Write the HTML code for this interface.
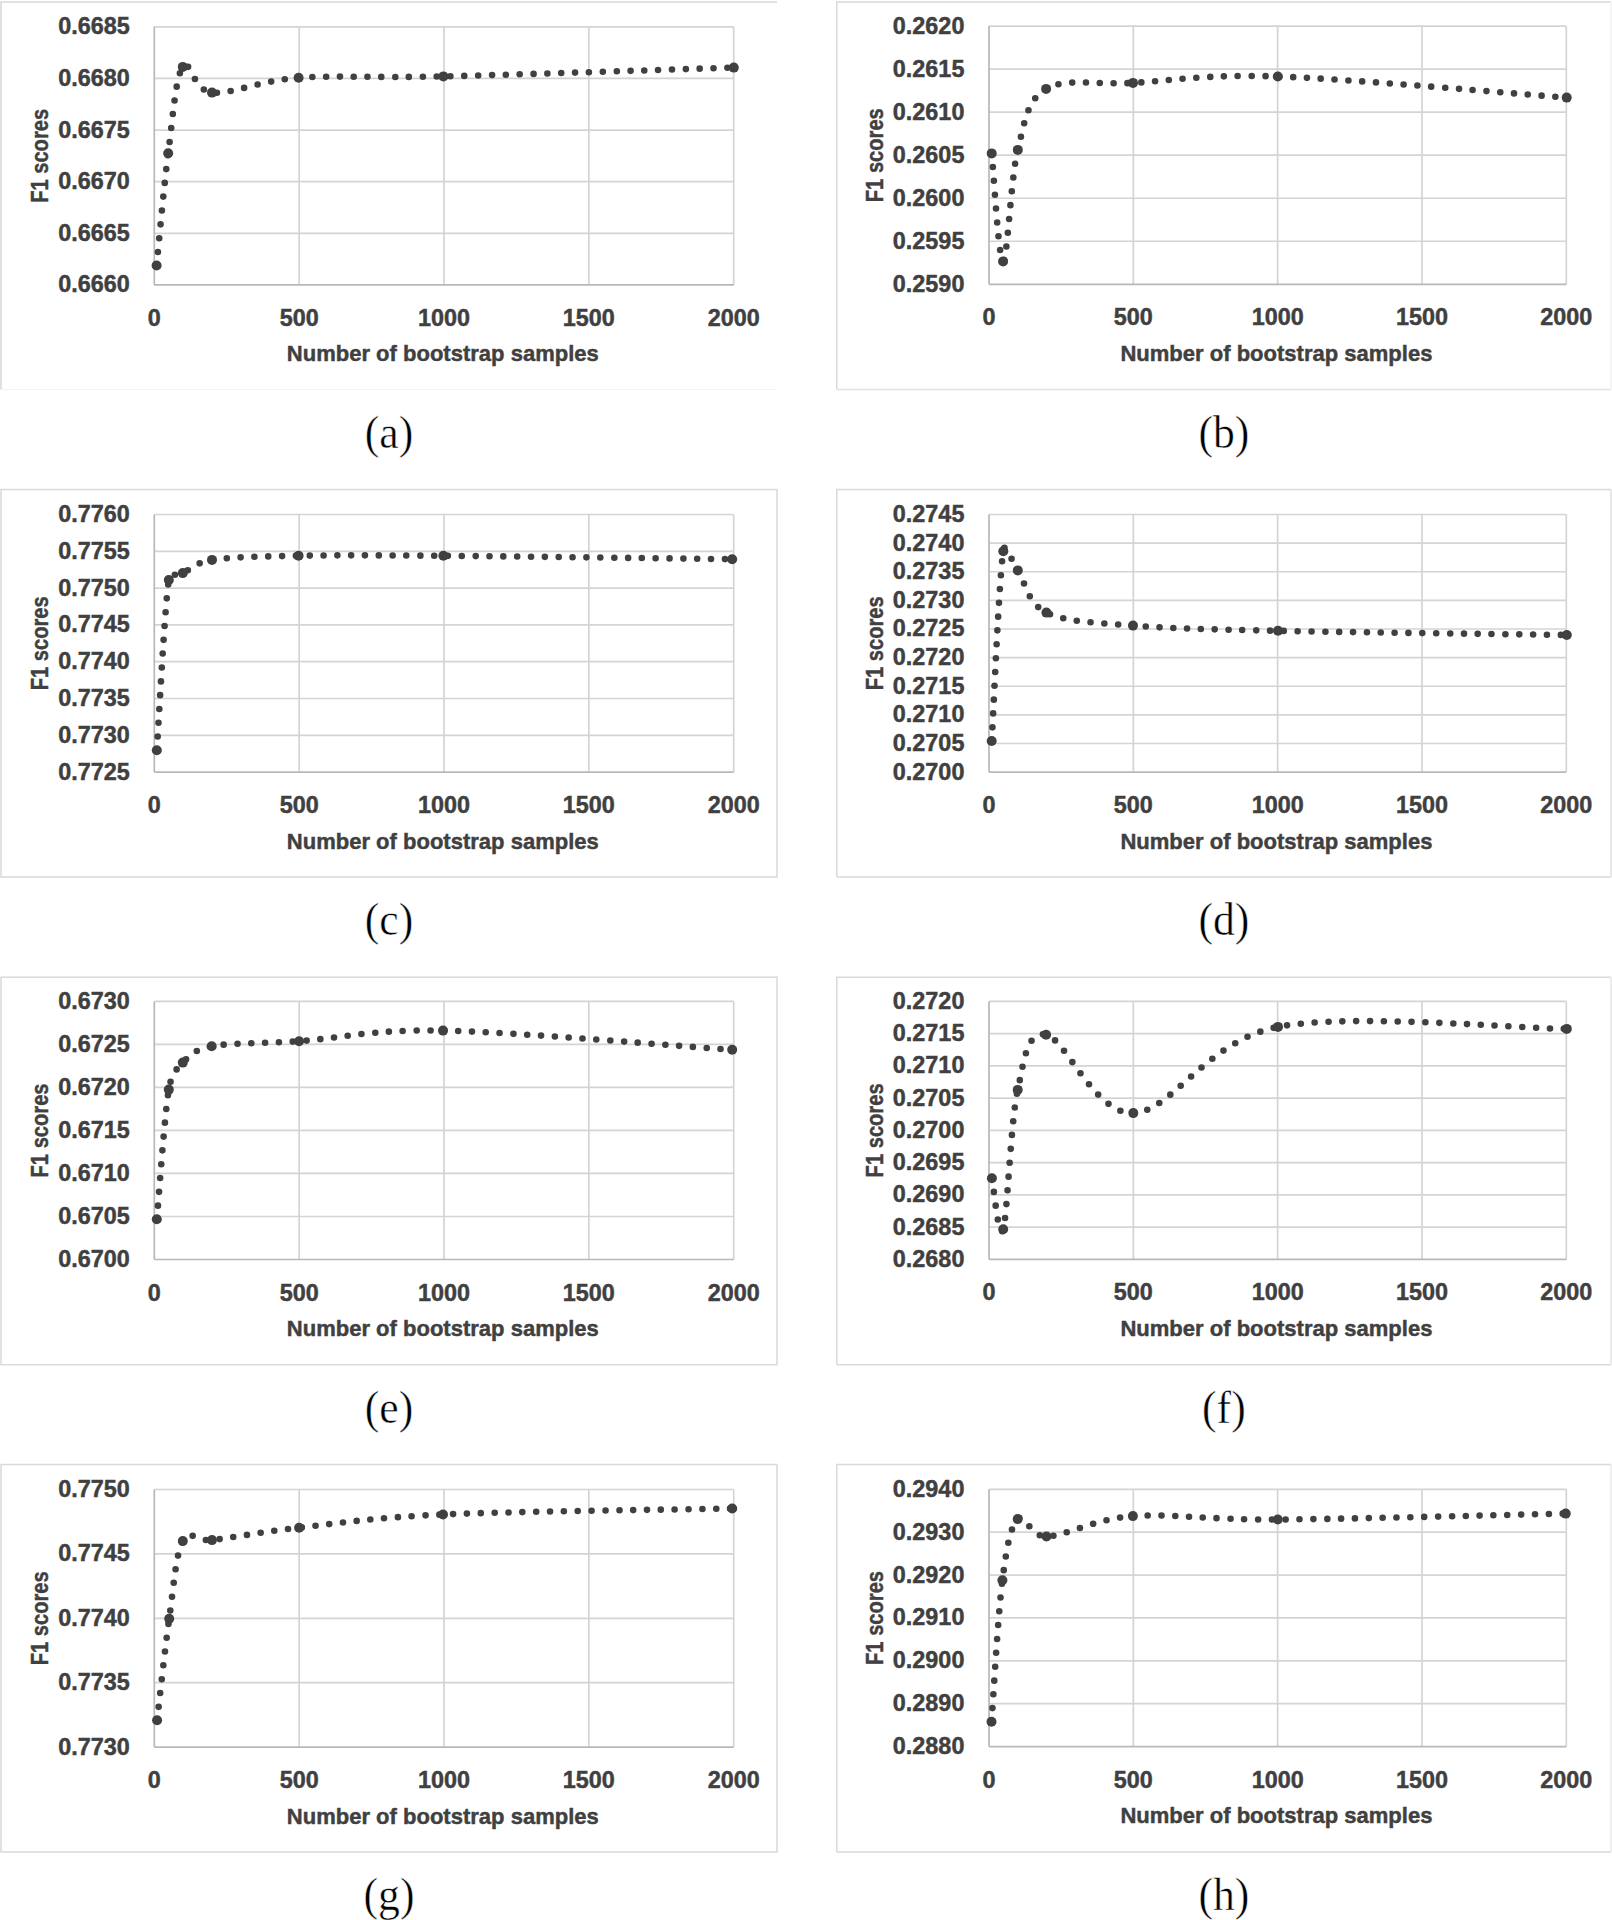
<!DOCTYPE html>
<html><head><meta charset="utf-8"><style>
html,body{margin:0;padding:0;background:#fff;overflow:hidden;width:1612px;height:1920px;}
svg{display:block;}
.t{font-family:"Liberation Sans",sans-serif;font-weight:bold;font-size:23.4px;fill:#404040;stroke:#404040;stroke-width:0.45px;}
.c{font-family:"Liberation Serif",serif;font-size:47px;fill:#000;stroke:#fff;stroke-width:0.5px;}
</style></head><body>
<svg width="1612" height="1920" viewBox="0 0 1612 1920">
<rect width="1612" height="1920" fill="#fff"/>
<path d="M1,389.5 L1,2 L777,2" fill="none" stroke="#d9d9d9" stroke-width="1.6"/>
<line x1="1" y1="389.5" x2="777" y2="389.5" stroke="#f4f4f4" stroke-width="1.2"/>
<line x1="154.3" y1="26.8" x2="733.7" y2="26.8" stroke="#d4d4d4" stroke-width="1.7"/>
<line x1="154.3" y1="78.42" x2="733.7" y2="78.42" stroke="#d4d4d4" stroke-width="1.7"/>
<line x1="154.3" y1="130.04" x2="733.7" y2="130.04" stroke="#d4d4d4" stroke-width="1.7"/>
<line x1="154.3" y1="181.66" x2="733.7" y2="181.66" stroke="#d4d4d4" stroke-width="1.7"/>
<line x1="154.3" y1="233.28" x2="733.7" y2="233.28" stroke="#d4d4d4" stroke-width="1.7"/>
<line x1="299.15" y1="26.8" x2="299.15" y2="284.9" stroke="#d4d4d4" stroke-width="1.7"/>
<line x1="444" y1="26.8" x2="444" y2="284.9" stroke="#d4d4d4" stroke-width="1.7"/>
<line x1="588.85" y1="26.8" x2="588.85" y2="284.9" stroke="#d4d4d4" stroke-width="1.7"/>
<line x1="733.7" y1="26.8" x2="733.7" y2="284.9" stroke="#d4d4d4" stroke-width="1.7"/>
<line x1="154.3" y1="26.8" x2="154.3" y2="284.9" stroke="#b8b8b8" stroke-width="1.7"/>
<line x1="154.3" y1="284.9" x2="733.7" y2="284.9" stroke="#b8b8b8" stroke-width="1.7"/>
<text x="129.7" y="34.3" text-anchor="end" class="t">0.6685</text>
<text x="129.7" y="85.92" text-anchor="end" class="t">0.6680</text>
<text x="129.7" y="137.54" text-anchor="end" class="t">0.6675</text>
<text x="129.7" y="189.16" text-anchor="end" class="t">0.6670</text>
<text x="129.7" y="240.78" text-anchor="end" class="t">0.6665</text>
<text x="129.7" y="292.4" text-anchor="end" class="t">0.6660</text>
<text x="154.3" y="325.9" text-anchor="middle" class="t">0</text>
<text x="299.15" y="325.9" text-anchor="middle" class="t">500</text>
<text x="444" y="325.9" text-anchor="middle" class="t">1000</text>
<text x="588.85" y="325.9" text-anchor="middle" class="t">1500</text>
<text x="733.7" y="325.9" text-anchor="middle" class="t">2000</text>
<text x="442.8" y="361.3" text-anchor="middle" class="t" style="font-size:22.3px" textLength="312" lengthAdjust="spacingAndGlyphs">Number of bootstrap samples</text>
<text x="0" y="0" transform="translate(48.1,155.85) rotate(-90)" text-anchor="middle" class="t" textLength="94" lengthAdjust="spacingAndGlyphs">F1 scores</text>
<path d="M156.6,265.5 C158.53,246.8 163.83,186.4 168.2,153.3 C172.57,120.2 175.5,77.02 182.8,66.9 C190.1,56.78 192.7,90.78 212,92.6 C231.3,94.42 260.03,80.5 298.6,77.8 C337.17,75.1 371.02,78.1 443.4,76.4 C515.93,74.7 685.4,69.07 733.8,67.6" fill="none" stroke="#404040" stroke-width="6.6" stroke-linecap="round" stroke-dasharray="0 13.83"/>
<circle cx="156.6" cy="265.5" r="5" fill="#404040"/>
<circle cx="168.2" cy="153.3" r="5" fill="#404040"/>
<circle cx="182.8" cy="66.9" r="5" fill="#404040"/>
<circle cx="212" cy="92.6" r="5" fill="#404040"/>
<circle cx="298.6" cy="77.8" r="5" fill="#404040"/>
<circle cx="443.4" cy="76.4" r="5" fill="#404040"/>
<circle cx="733.8" cy="67.6" r="5" fill="#404040"/>
<text x="0" y="0" transform="translate(389,447.6) scale(0.93,1)" text-anchor="middle" class="c">(a)</text>
<path d="M1611,2 L836.8,2 L836.8,389.5" fill="none" stroke="#d9d9d9" stroke-width="1.5"/>
<line x1="836.8" y1="389.5" x2="1611" y2="389.5" stroke="#e2e2e2" stroke-width="1.5"/>
<line x1="1611" y1="2" x2="1611" y2="389.5" stroke="#f4f4f4" stroke-width="1.8"/>
<line x1="989" y1="26.1" x2="1566.3" y2="26.1" stroke="#d4d4d4" stroke-width="1.7"/>
<line x1="989" y1="69.13" x2="1566.3" y2="69.13" stroke="#d4d4d4" stroke-width="1.7"/>
<line x1="989" y1="112.17" x2="1566.3" y2="112.17" stroke="#d4d4d4" stroke-width="1.7"/>
<line x1="989" y1="155.2" x2="1566.3" y2="155.2" stroke="#d4d4d4" stroke-width="1.7"/>
<line x1="989" y1="198.23" x2="1566.3" y2="198.23" stroke="#d4d4d4" stroke-width="1.7"/>
<line x1="989" y1="241.27" x2="1566.3" y2="241.27" stroke="#d4d4d4" stroke-width="1.7"/>
<line x1="1133.33" y1="26.1" x2="1133.33" y2="284.3" stroke="#d4d4d4" stroke-width="1.7"/>
<line x1="1277.65" y1="26.1" x2="1277.65" y2="284.3" stroke="#d4d4d4" stroke-width="1.7"/>
<line x1="1421.97" y1="26.1" x2="1421.97" y2="284.3" stroke="#d4d4d4" stroke-width="1.7"/>
<line x1="1566.3" y1="26.1" x2="1566.3" y2="284.3" stroke="#d4d4d4" stroke-width="1.7"/>
<line x1="989" y1="26.1" x2="989" y2="284.3" stroke="#b8b8b8" stroke-width="1.7"/>
<line x1="989" y1="284.3" x2="1566.3" y2="284.3" stroke="#b8b8b8" stroke-width="1.7"/>
<text x="964.4" y="33.6" text-anchor="end" class="t">0.2620</text>
<text x="964.4" y="76.63" text-anchor="end" class="t">0.2615</text>
<text x="964.4" y="119.67" text-anchor="end" class="t">0.2610</text>
<text x="964.4" y="162.7" text-anchor="end" class="t">0.2605</text>
<text x="964.4" y="205.73" text-anchor="end" class="t">0.2600</text>
<text x="964.4" y="248.77" text-anchor="end" class="t">0.2595</text>
<text x="964.4" y="291.8" text-anchor="end" class="t">0.2590</text>
<text x="989" y="325.3" text-anchor="middle" class="t">0</text>
<text x="1133.33" y="325.3" text-anchor="middle" class="t">500</text>
<text x="1277.65" y="325.3" text-anchor="middle" class="t">1000</text>
<text x="1421.97" y="325.3" text-anchor="middle" class="t">1500</text>
<text x="1566.3" y="325.3" text-anchor="middle" class="t">2000</text>
<text x="1276.45" y="360.7" text-anchor="middle" class="t" style="font-size:22.3px" textLength="312" lengthAdjust="spacingAndGlyphs">Number of bootstrap samples</text>
<text x="0" y="0" transform="translate(882.8,155.2) rotate(-90)" text-anchor="middle" class="t" textLength="94" lengthAdjust="spacingAndGlyphs">F1 scores</text>
<path d="M991.7,153.4 C993.6,171.4 998.75,261.98 1003.1,261.4 C1007.45,260.82 1010.63,178.65 1017.8,149.9 C1024.97,121.15 1026.9,100.07 1046.1,88.9 C1065.3,77.73 1094.38,84.97 1133,82.9 C1171.62,80.83 1205.52,74.05 1277.8,76.5 C1350.08,78.95 1518.55,94.08 1566.7,97.6" fill="none" stroke="#404040" stroke-width="6.6" stroke-linecap="round" stroke-dasharray="0 13.83"/>
<circle cx="991.7" cy="153.4" r="5" fill="#404040"/>
<circle cx="1003.1" cy="261.4" r="5" fill="#404040"/>
<circle cx="1017.8" cy="149.9" r="5" fill="#404040"/>
<circle cx="1046.1" cy="88.9" r="5" fill="#404040"/>
<circle cx="1133" cy="82.9" r="5" fill="#404040"/>
<circle cx="1277.8" cy="76.5" r="5" fill="#404040"/>
<circle cx="1566.7" cy="97.6" r="5" fill="#404040"/>
<text x="0" y="0" transform="translate(1223.9,447.6) scale(0.93,1)" text-anchor="middle" class="c">(b)</text>
<rect x="1" y="489.5" width="776" height="387.5" fill="none" stroke="#d9d9d9" stroke-width="1.5"/>
<line x1="154.3" y1="514.5" x2="733.7" y2="514.5" stroke="#d4d4d4" stroke-width="1.7"/>
<line x1="154.3" y1="551.3" x2="733.7" y2="551.3" stroke="#d4d4d4" stroke-width="1.7"/>
<line x1="154.3" y1="588.1" x2="733.7" y2="588.1" stroke="#d4d4d4" stroke-width="1.7"/>
<line x1="154.3" y1="624.9" x2="733.7" y2="624.9" stroke="#d4d4d4" stroke-width="1.7"/>
<line x1="154.3" y1="661.7" x2="733.7" y2="661.7" stroke="#d4d4d4" stroke-width="1.7"/>
<line x1="154.3" y1="698.5" x2="733.7" y2="698.5" stroke="#d4d4d4" stroke-width="1.7"/>
<line x1="154.3" y1="735.3" x2="733.7" y2="735.3" stroke="#d4d4d4" stroke-width="1.7"/>
<line x1="299.15" y1="514.5" x2="299.15" y2="772.1" stroke="#d4d4d4" stroke-width="1.7"/>
<line x1="444" y1="514.5" x2="444" y2="772.1" stroke="#d4d4d4" stroke-width="1.7"/>
<line x1="588.85" y1="514.5" x2="588.85" y2="772.1" stroke="#d4d4d4" stroke-width="1.7"/>
<line x1="733.7" y1="514.5" x2="733.7" y2="772.1" stroke="#d4d4d4" stroke-width="1.7"/>
<line x1="154.3" y1="514.5" x2="154.3" y2="772.1" stroke="#b8b8b8" stroke-width="1.7"/>
<line x1="154.3" y1="772.1" x2="733.7" y2="772.1" stroke="#b8b8b8" stroke-width="1.7"/>
<text x="129.7" y="522" text-anchor="end" class="t">0.7760</text>
<text x="129.7" y="558.8" text-anchor="end" class="t">0.7755</text>
<text x="129.7" y="595.6" text-anchor="end" class="t">0.7750</text>
<text x="129.7" y="632.4" text-anchor="end" class="t">0.7745</text>
<text x="129.7" y="669.2" text-anchor="end" class="t">0.7740</text>
<text x="129.7" y="706" text-anchor="end" class="t">0.7735</text>
<text x="129.7" y="742.8" text-anchor="end" class="t">0.7730</text>
<text x="129.7" y="779.6" text-anchor="end" class="t">0.7725</text>
<text x="154.3" y="813.1" text-anchor="middle" class="t">0</text>
<text x="299.15" y="813.1" text-anchor="middle" class="t">500</text>
<text x="444" y="813.1" text-anchor="middle" class="t">1000</text>
<text x="588.85" y="813.1" text-anchor="middle" class="t">1500</text>
<text x="733.7" y="813.1" text-anchor="middle" class="t">2000</text>
<text x="442.8" y="848.5" text-anchor="middle" class="t" style="font-size:22.3px" textLength="312" lengthAdjust="spacingAndGlyphs">Number of bootstrap samples</text>
<text x="0" y="0" transform="translate(48.1,643.3) rotate(-90)" text-anchor="middle" class="t" textLength="94" lengthAdjust="spacingAndGlyphs">F1 scores</text>
<path d="M156.8,750.3 C158.8,721.92 164.47,609.53 168.8,580 C169.93,572.28 175.72,576.39 182.8,573.1 C190,569.75 196.15,562.27 212,559.9 C231.3,557.02 260.03,556.48 298.6,555.8 C337.17,555.12 371.13,555.23 443.4,555.8 C515.67,556.37 684.07,558.63 732.2,559.2" fill="none" stroke="#404040" stroke-width="6.6" stroke-linecap="round" stroke-dasharray="0 13.83"/>
<circle cx="156.8" cy="750.3" r="5" fill="#404040"/>
<circle cx="168.8" cy="580" r="5" fill="#404040"/>
<circle cx="182.8" cy="573.1" r="5" fill="#404040"/>
<circle cx="212" cy="559.9" r="5" fill="#404040"/>
<circle cx="298.6" cy="555.8" r="5" fill="#404040"/>
<circle cx="443.4" cy="555.8" r="5" fill="#404040"/>
<circle cx="732.2" cy="559.2" r="5" fill="#404040"/>
<text x="0" y="0" transform="translate(389,935.1) scale(0.93,1)" text-anchor="middle" class="c">(c)</text>
<path d="M1611,489.5 L836.8,489.5 L836.8,877" fill="none" stroke="#d9d9d9" stroke-width="1.5"/>
<line x1="836.8" y1="877" x2="1611" y2="877" stroke="#d9d9d9" stroke-width="1.5"/>
<line x1="1611" y1="489.5" x2="1611" y2="877" stroke="#e6e6e6" stroke-width="1.8"/>
<line x1="989" y1="514.5" x2="1566.3" y2="514.5" stroke="#d4d4d4" stroke-width="1.7"/>
<line x1="989" y1="543.12" x2="1566.3" y2="543.12" stroke="#d4d4d4" stroke-width="1.7"/>
<line x1="989" y1="571.74" x2="1566.3" y2="571.74" stroke="#d4d4d4" stroke-width="1.7"/>
<line x1="989" y1="600.37" x2="1566.3" y2="600.37" stroke="#d4d4d4" stroke-width="1.7"/>
<line x1="989" y1="628.99" x2="1566.3" y2="628.99" stroke="#d4d4d4" stroke-width="1.7"/>
<line x1="989" y1="657.61" x2="1566.3" y2="657.61" stroke="#d4d4d4" stroke-width="1.7"/>
<line x1="989" y1="686.23" x2="1566.3" y2="686.23" stroke="#d4d4d4" stroke-width="1.7"/>
<line x1="989" y1="714.86" x2="1566.3" y2="714.86" stroke="#d4d4d4" stroke-width="1.7"/>
<line x1="989" y1="743.48" x2="1566.3" y2="743.48" stroke="#d4d4d4" stroke-width="1.7"/>
<line x1="1133.33" y1="514.5" x2="1133.33" y2="772.1" stroke="#d4d4d4" stroke-width="1.7"/>
<line x1="1277.65" y1="514.5" x2="1277.65" y2="772.1" stroke="#d4d4d4" stroke-width="1.7"/>
<line x1="1421.97" y1="514.5" x2="1421.97" y2="772.1" stroke="#d4d4d4" stroke-width="1.7"/>
<line x1="1566.3" y1="514.5" x2="1566.3" y2="772.1" stroke="#d4d4d4" stroke-width="1.7"/>
<line x1="989" y1="514.5" x2="989" y2="772.1" stroke="#b8b8b8" stroke-width="1.7"/>
<line x1="989" y1="772.1" x2="1566.3" y2="772.1" stroke="#b8b8b8" stroke-width="1.7"/>
<text x="964.4" y="522" text-anchor="end" class="t">0.2745</text>
<text x="964.4" y="550.62" text-anchor="end" class="t">0.2740</text>
<text x="964.4" y="579.24" text-anchor="end" class="t">0.2735</text>
<text x="964.4" y="607.87" text-anchor="end" class="t">0.2730</text>
<text x="964.4" y="636.49" text-anchor="end" class="t">0.2725</text>
<text x="964.4" y="665.11" text-anchor="end" class="t">0.2720</text>
<text x="964.4" y="693.73" text-anchor="end" class="t">0.2715</text>
<text x="964.4" y="722.36" text-anchor="end" class="t">0.2710</text>
<text x="964.4" y="750.98" text-anchor="end" class="t">0.2705</text>
<text x="964.4" y="779.6" text-anchor="end" class="t">0.2700</text>
<text x="989" y="813.1" text-anchor="middle" class="t">0</text>
<text x="1133.33" y="813.1" text-anchor="middle" class="t">500</text>
<text x="1277.65" y="813.1" text-anchor="middle" class="t">1000</text>
<text x="1421.97" y="813.1" text-anchor="middle" class="t">1500</text>
<text x="1566.3" y="813.1" text-anchor="middle" class="t">2000</text>
<text x="1276.45" y="848.5" text-anchor="middle" class="t" style="font-size:22.3px" textLength="312" lengthAdjust="spacingAndGlyphs">Number of bootstrap samples</text>
<text x="0" y="0" transform="translate(882.8,643.3) rotate(-90)" text-anchor="middle" class="t" textLength="94" lengthAdjust="spacingAndGlyphs">F1 scores</text>
<path d="M991.7,741 C993.63,709.37 998.95,579.63 1003.3,551.2 C1005.12,539.31 1010.89,560.55 1017.8,570.4 C1024.98,580.63 1027.2,603.4 1046.4,612.6 C1065.6,621.8 1094.4,622.57 1133,625.6 C1171.6,628.63 1205.7,629.23 1278,630.8 C1350.3,632.37 1518.67,634.3 1566.8,635" fill="none" stroke="#404040" stroke-width="6.6" stroke-linecap="round" stroke-dasharray="0 13.83"/>
<circle cx="991.7" cy="741" r="5" fill="#404040"/>
<circle cx="1003.3" cy="551.2" r="5" fill="#404040"/>
<circle cx="1017.8" cy="570.4" r="5" fill="#404040"/>
<circle cx="1046.4" cy="612.6" r="5" fill="#404040"/>
<circle cx="1133" cy="625.6" r="5" fill="#404040"/>
<circle cx="1278" cy="630.8" r="5" fill="#404040"/>
<circle cx="1566.8" cy="635" r="5" fill="#404040"/>
<text x="0" y="0" transform="translate(1223.9,935.1) scale(0.93,1)" text-anchor="middle" class="c">(d)</text>
<rect x="1" y="977.2" width="776" height="387.5" fill="none" stroke="#d9d9d9" stroke-width="1.5"/>
<line x1="154.3" y1="1001.4" x2="733.7" y2="1001.4" stroke="#d4d4d4" stroke-width="1.7"/>
<line x1="154.3" y1="1044.42" x2="733.7" y2="1044.42" stroke="#d4d4d4" stroke-width="1.7"/>
<line x1="154.3" y1="1087.43" x2="733.7" y2="1087.43" stroke="#d4d4d4" stroke-width="1.7"/>
<line x1="154.3" y1="1130.45" x2="733.7" y2="1130.45" stroke="#d4d4d4" stroke-width="1.7"/>
<line x1="154.3" y1="1173.47" x2="733.7" y2="1173.47" stroke="#d4d4d4" stroke-width="1.7"/>
<line x1="154.3" y1="1216.48" x2="733.7" y2="1216.48" stroke="#d4d4d4" stroke-width="1.7"/>
<line x1="299.15" y1="1001.4" x2="299.15" y2="1259.5" stroke="#d4d4d4" stroke-width="1.7"/>
<line x1="444" y1="1001.4" x2="444" y2="1259.5" stroke="#d4d4d4" stroke-width="1.7"/>
<line x1="588.85" y1="1001.4" x2="588.85" y2="1259.5" stroke="#d4d4d4" stroke-width="1.7"/>
<line x1="733.7" y1="1001.4" x2="733.7" y2="1259.5" stroke="#d4d4d4" stroke-width="1.7"/>
<line x1="154.3" y1="1001.4" x2="154.3" y2="1259.5" stroke="#b8b8b8" stroke-width="1.7"/>
<line x1="154.3" y1="1259.5" x2="733.7" y2="1259.5" stroke="#b8b8b8" stroke-width="1.7"/>
<text x="129.7" y="1008.9" text-anchor="end" class="t">0.6730</text>
<text x="129.7" y="1051.92" text-anchor="end" class="t">0.6725</text>
<text x="129.7" y="1094.93" text-anchor="end" class="t">0.6720</text>
<text x="129.7" y="1137.95" text-anchor="end" class="t">0.6715</text>
<text x="129.7" y="1180.97" text-anchor="end" class="t">0.6710</text>
<text x="129.7" y="1223.98" text-anchor="end" class="t">0.6705</text>
<text x="129.7" y="1267" text-anchor="end" class="t">0.6700</text>
<text x="154.3" y="1300.5" text-anchor="middle" class="t">0</text>
<text x="299.15" y="1300.5" text-anchor="middle" class="t">500</text>
<text x="444" y="1300.5" text-anchor="middle" class="t">1000</text>
<text x="588.85" y="1300.5" text-anchor="middle" class="t">1500</text>
<text x="733.7" y="1300.5" text-anchor="middle" class="t">2000</text>
<text x="442.8" y="1335.9" text-anchor="middle" class="t" style="font-size:22.3px" textLength="312" lengthAdjust="spacingAndGlyphs">Number of bootstrap samples</text>
<text x="0" y="0" transform="translate(48.1,1130.45) rotate(-90)" text-anchor="middle" class="t" textLength="94" lengthAdjust="spacingAndGlyphs">F1 scores</text>
<path d="M156.8,1219.3 C158.8,1197.68 164.47,1115.72 168.8,1089.6 C171.29,1074.6 175.65,1069.83 182.8,1062.6 C189.95,1055.37 195.36,1049.21 211.7,1046.2 C231.08,1042.63 260.55,1043.8 299.1,1041.2 C337.65,1038.6 370.87,1029.17 443,1030.6 C515.18,1032.03 684,1046.6 732.2,1049.8" fill="none" stroke="#404040" stroke-width="6.6" stroke-linecap="round" stroke-dasharray="0 13.83"/>
<circle cx="156.8" cy="1219.3" r="5" fill="#404040"/>
<circle cx="168.8" cy="1089.6" r="5" fill="#404040"/>
<circle cx="182.8" cy="1062.6" r="5" fill="#404040"/>
<circle cx="211.7" cy="1046.2" r="5" fill="#404040"/>
<circle cx="299.1" cy="1041.2" r="5" fill="#404040"/>
<circle cx="443" cy="1030.6" r="5" fill="#404040"/>
<circle cx="732.2" cy="1049.8" r="5" fill="#404040"/>
<text x="0" y="0" transform="translate(389,1422.8) scale(0.93,1)" text-anchor="middle" class="c">(e)</text>
<path d="M1611,977.2 L836.8,977.2 L836.8,1364.7" fill="none" stroke="#d9d9d9" stroke-width="1.5"/>
<line x1="836.8" y1="1364.7" x2="1611" y2="1364.7" stroke="#d9d9d9" stroke-width="1.5"/>
<line x1="1611" y1="977.2" x2="1611" y2="1364.7" stroke="#eaeaea" stroke-width="1.8"/>
<line x1="989" y1="1001.4" x2="1566.3" y2="1001.4" stroke="#d4d4d4" stroke-width="1.7"/>
<line x1="989" y1="1033.65" x2="1566.3" y2="1033.65" stroke="#d4d4d4" stroke-width="1.7"/>
<line x1="989" y1="1065.9" x2="1566.3" y2="1065.9" stroke="#d4d4d4" stroke-width="1.7"/>
<line x1="989" y1="1098.15" x2="1566.3" y2="1098.15" stroke="#d4d4d4" stroke-width="1.7"/>
<line x1="989" y1="1130.4" x2="1566.3" y2="1130.4" stroke="#d4d4d4" stroke-width="1.7"/>
<line x1="989" y1="1162.65" x2="1566.3" y2="1162.65" stroke="#d4d4d4" stroke-width="1.7"/>
<line x1="989" y1="1194.9" x2="1566.3" y2="1194.9" stroke="#d4d4d4" stroke-width="1.7"/>
<line x1="989" y1="1227.15" x2="1566.3" y2="1227.15" stroke="#d4d4d4" stroke-width="1.7"/>
<line x1="1133.33" y1="1001.4" x2="1133.33" y2="1259.4" stroke="#d4d4d4" stroke-width="1.7"/>
<line x1="1277.65" y1="1001.4" x2="1277.65" y2="1259.4" stroke="#d4d4d4" stroke-width="1.7"/>
<line x1="1421.97" y1="1001.4" x2="1421.97" y2="1259.4" stroke="#d4d4d4" stroke-width="1.7"/>
<line x1="1566.3" y1="1001.4" x2="1566.3" y2="1259.4" stroke="#d4d4d4" stroke-width="1.7"/>
<line x1="989" y1="1001.4" x2="989" y2="1259.4" stroke="#b8b8b8" stroke-width="1.7"/>
<line x1="989" y1="1259.4" x2="1566.3" y2="1259.4" stroke="#b8b8b8" stroke-width="1.7"/>
<text x="964.4" y="1008.9" text-anchor="end" class="t">0.2720</text>
<text x="964.4" y="1041.15" text-anchor="end" class="t">0.2715</text>
<text x="964.4" y="1073.4" text-anchor="end" class="t">0.2710</text>
<text x="964.4" y="1105.65" text-anchor="end" class="t">0.2705</text>
<text x="964.4" y="1137.9" text-anchor="end" class="t">0.2700</text>
<text x="964.4" y="1170.15" text-anchor="end" class="t">0.2695</text>
<text x="964.4" y="1202.4" text-anchor="end" class="t">0.2690</text>
<text x="964.4" y="1234.65" text-anchor="end" class="t">0.2685</text>
<text x="964.4" y="1266.9" text-anchor="end" class="t">0.2680</text>
<text x="989" y="1300.4" text-anchor="middle" class="t">0</text>
<text x="1133.33" y="1300.4" text-anchor="middle" class="t">500</text>
<text x="1277.65" y="1300.4" text-anchor="middle" class="t">1000</text>
<text x="1421.97" y="1300.4" text-anchor="middle" class="t">1500</text>
<text x="1566.3" y="1300.4" text-anchor="middle" class="t">2000</text>
<text x="1276.45" y="1335.8" text-anchor="middle" class="t" style="font-size:22.3px" textLength="312" lengthAdjust="spacingAndGlyphs">Number of bootstrap samples</text>
<text x="0" y="0" transform="translate(882.8,1130.4) rotate(-90)" text-anchor="middle" class="t" textLength="94" lengthAdjust="spacingAndGlyphs">F1 scores</text>
<path d="M991.9,1178.2 C993.78,1186.7 998.9,1243.92 1003.2,1229.2 C1007.5,1214.48 1010.55,1122.32 1017.7,1089.9 C1024.39,1059.59 1026.83,1030.83 1046.1,1034.7 C1065.37,1038.57 1094.65,1114.4 1133.3,1113.1 C1171.95,1111.8 1205.75,1040.93 1278,1026.9 C1350.25,1012.87 1518.67,1028.57 1566.8,1028.9" fill="none" stroke="#404040" stroke-width="6.6" stroke-linecap="round" stroke-dasharray="0 13.83"/>
<circle cx="991.9" cy="1178.2" r="5" fill="#404040"/>
<circle cx="1003.2" cy="1229.2" r="5" fill="#404040"/>
<circle cx="1017.7" cy="1089.9" r="5" fill="#404040"/>
<circle cx="1046.1" cy="1034.7" r="5" fill="#404040"/>
<circle cx="1133.3" cy="1113.1" r="5" fill="#404040"/>
<circle cx="1278" cy="1026.9" r="5" fill="#404040"/>
<circle cx="1566.8" cy="1028.9" r="5" fill="#404040"/>
<text x="0" y="0" transform="translate(1223.9,1422.8) scale(0.93,1)" text-anchor="middle" class="c">(f)</text>
<rect x="1" y="1464.5" width="776" height="387.5" fill="none" stroke="#d9d9d9" stroke-width="1.5"/>
<line x1="154.3" y1="1489.5" x2="733.7" y2="1489.5" stroke="#d4d4d4" stroke-width="1.7"/>
<line x1="154.3" y1="1553.9" x2="733.7" y2="1553.9" stroke="#d4d4d4" stroke-width="1.7"/>
<line x1="154.3" y1="1618.3" x2="733.7" y2="1618.3" stroke="#d4d4d4" stroke-width="1.7"/>
<line x1="154.3" y1="1682.7" x2="733.7" y2="1682.7" stroke="#d4d4d4" stroke-width="1.7"/>
<line x1="299.15" y1="1489.5" x2="299.15" y2="1747.1" stroke="#d4d4d4" stroke-width="1.7"/>
<line x1="444" y1="1489.5" x2="444" y2="1747.1" stroke="#d4d4d4" stroke-width="1.7"/>
<line x1="588.85" y1="1489.5" x2="588.85" y2="1747.1" stroke="#d4d4d4" stroke-width="1.7"/>
<line x1="733.7" y1="1489.5" x2="733.7" y2="1747.1" stroke="#d4d4d4" stroke-width="1.7"/>
<line x1="154.3" y1="1489.5" x2="154.3" y2="1747.1" stroke="#b8b8b8" stroke-width="1.7"/>
<line x1="154.3" y1="1747.1" x2="733.7" y2="1747.1" stroke="#b8b8b8" stroke-width="1.7"/>
<text x="129.7" y="1497" text-anchor="end" class="t">0.7750</text>
<text x="129.7" y="1561.4" text-anchor="end" class="t">0.7745</text>
<text x="129.7" y="1625.8" text-anchor="end" class="t">0.7740</text>
<text x="129.7" y="1690.2" text-anchor="end" class="t">0.7735</text>
<text x="129.7" y="1754.6" text-anchor="end" class="t">0.7730</text>
<text x="154.3" y="1788.1" text-anchor="middle" class="t">0</text>
<text x="299.15" y="1788.1" text-anchor="middle" class="t">500</text>
<text x="444" y="1788.1" text-anchor="middle" class="t">1000</text>
<text x="588.85" y="1788.1" text-anchor="middle" class="t">1500</text>
<text x="733.7" y="1788.1" text-anchor="middle" class="t">2000</text>
<text x="442.8" y="1823.5" text-anchor="middle" class="t" style="font-size:22.3px" textLength="312" lengthAdjust="spacingAndGlyphs">Number of bootstrap samples</text>
<text x="0" y="0" transform="translate(48.1,1618.3) rotate(-90)" text-anchor="middle" class="t" textLength="94" lengthAdjust="spacingAndGlyphs">F1 scores</text>
<path d="M157.1,1720.3 C159.12,1703.37 164.92,1648.57 169.2,1618.7 C173.48,1588.83 175.67,1554.2 182.8,1541.1 C189.79,1528.27 197.49,1541.77 212,1540.1 C231.38,1537.87 260.6,1531.97 299.1,1527.7 C337.6,1523.43 370.82,1517.7 443,1514.5 C515.18,1511.3 684,1509.5 732.2,1508.5" fill="none" stroke="#404040" stroke-width="6.6" stroke-linecap="round" stroke-dasharray="0 13.83"/>
<circle cx="157.1" cy="1720.3" r="5" fill="#404040"/>
<circle cx="169.2" cy="1618.7" r="5" fill="#404040"/>
<circle cx="182.8" cy="1541.1" r="5" fill="#404040"/>
<circle cx="212" cy="1540.1" r="5" fill="#404040"/>
<circle cx="299.1" cy="1527.7" r="5" fill="#404040"/>
<circle cx="443" cy="1514.5" r="5" fill="#404040"/>
<circle cx="732.2" cy="1508.5" r="5" fill="#404040"/>
<text x="0" y="0" transform="translate(389,1910.1) scale(0.93,1)" text-anchor="middle" class="c">(g)</text>
<path d="M1611,1464.5 L836.8,1464.5 L836.8,1852" fill="none" stroke="#d9d9d9" stroke-width="1.5"/>
<line x1="836.8" y1="1852" x2="1611" y2="1852" stroke="#d9d9d9" stroke-width="1.5"/>
<line x1="1611" y1="1464.5" x2="1611" y2="1852" stroke="#eeeeee" stroke-width="1.8"/>
<line x1="989" y1="1489.3" x2="1566.3" y2="1489.3" stroke="#d4d4d4" stroke-width="1.7"/>
<line x1="989" y1="1532.18" x2="1566.3" y2="1532.18" stroke="#d4d4d4" stroke-width="1.7"/>
<line x1="989" y1="1575.07" x2="1566.3" y2="1575.07" stroke="#d4d4d4" stroke-width="1.7"/>
<line x1="989" y1="1617.95" x2="1566.3" y2="1617.95" stroke="#d4d4d4" stroke-width="1.7"/>
<line x1="989" y1="1660.83" x2="1566.3" y2="1660.83" stroke="#d4d4d4" stroke-width="1.7"/>
<line x1="989" y1="1703.72" x2="1566.3" y2="1703.72" stroke="#d4d4d4" stroke-width="1.7"/>
<line x1="1133.33" y1="1489.3" x2="1133.33" y2="1746.6" stroke="#d4d4d4" stroke-width="1.7"/>
<line x1="1277.65" y1="1489.3" x2="1277.65" y2="1746.6" stroke="#d4d4d4" stroke-width="1.7"/>
<line x1="1421.97" y1="1489.3" x2="1421.97" y2="1746.6" stroke="#d4d4d4" stroke-width="1.7"/>
<line x1="1566.3" y1="1489.3" x2="1566.3" y2="1746.6" stroke="#d4d4d4" stroke-width="1.7"/>
<line x1="989" y1="1489.3" x2="989" y2="1746.6" stroke="#b8b8b8" stroke-width="1.7"/>
<line x1="989" y1="1746.6" x2="1566.3" y2="1746.6" stroke="#b8b8b8" stroke-width="1.7"/>
<text x="964.4" y="1496.8" text-anchor="end" class="t">0.2940</text>
<text x="964.4" y="1539.68" text-anchor="end" class="t">0.2930</text>
<text x="964.4" y="1582.57" text-anchor="end" class="t">0.2920</text>
<text x="964.4" y="1625.45" text-anchor="end" class="t">0.2910</text>
<text x="964.4" y="1668.33" text-anchor="end" class="t">0.2900</text>
<text x="964.4" y="1711.22" text-anchor="end" class="t">0.2890</text>
<text x="964.4" y="1754.1" text-anchor="end" class="t">0.2880</text>
<text x="989" y="1787.6" text-anchor="middle" class="t">0</text>
<text x="1133.33" y="1787.6" text-anchor="middle" class="t">500</text>
<text x="1277.65" y="1787.6" text-anchor="middle" class="t">1000</text>
<text x="1421.97" y="1787.6" text-anchor="middle" class="t">1500</text>
<text x="1566.3" y="1787.6" text-anchor="middle" class="t">2000</text>
<text x="1276.45" y="1823" text-anchor="middle" class="t" style="font-size:22.3px" textLength="312" lengthAdjust="spacingAndGlyphs">Number of bootstrap samples</text>
<text x="0" y="0" transform="translate(882.8,1617.95) rotate(-90)" text-anchor="middle" class="t" textLength="94" lengthAdjust="spacingAndGlyphs">F1 scores</text>
<path d="M991.5,1721.8 C993.32,1698.2 998.03,1613.98 1002.4,1580.2 C1006.44,1548.97 1010.35,1526.38 1017.7,1519.1 C1025.05,1511.82 1029.68,1536.94 1046.5,1536.5 C1065.7,1536 1094.35,1518.93 1132.9,1516.1 C1171.45,1513.27 1205.67,1519.92 1277.8,1519.5 C1349.93,1519.08 1517.72,1514.58 1565.7,1513.6" fill="none" stroke="#404040" stroke-width="6.6" stroke-linecap="round" stroke-dasharray="0 13.83"/>
<circle cx="991.5" cy="1721.8" r="5" fill="#404040"/>
<circle cx="1002.4" cy="1580.2" r="5" fill="#404040"/>
<circle cx="1017.7" cy="1519.1" r="5" fill="#404040"/>
<circle cx="1046.5" cy="1536.5" r="5" fill="#404040"/>
<circle cx="1132.9" cy="1516.1" r="5" fill="#404040"/>
<circle cx="1277.8" cy="1519.5" r="5" fill="#404040"/>
<circle cx="1565.7" cy="1513.6" r="5" fill="#404040"/>
<text x="0" y="0" transform="translate(1223.9,1910.1) scale(0.93,1)" text-anchor="middle" class="c">(h)</text>
</svg></body></html>
